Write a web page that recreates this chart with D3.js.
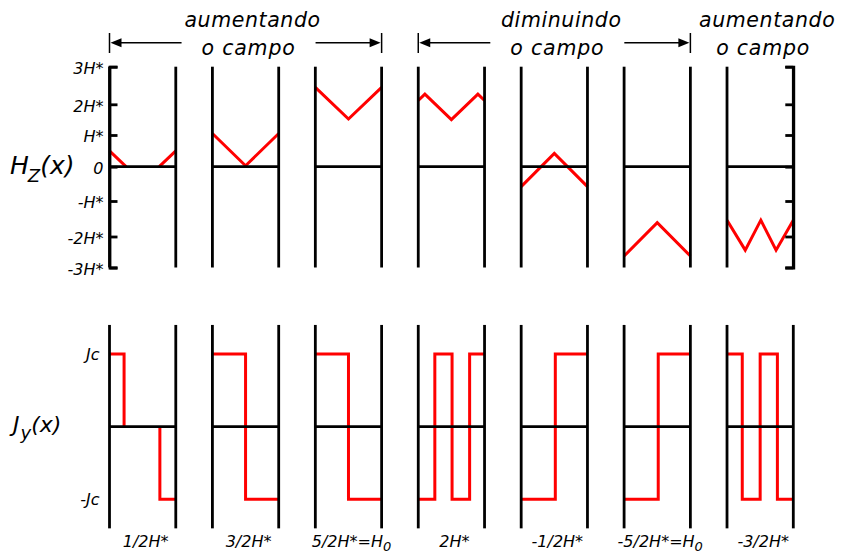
<!DOCTYPE html>
<html>
<head>
<meta charset="utf-8">
<script src="https://cdn.jsdelivr.net/npm/d3@7"></script>
<style>
  body { margin: 0; background: #fff; }
  text { font-family: "DejaVu Sans", sans-serif; font-style: italic; fill: #000; }
</style>
</head>
<body>
<div id="container"></div>
<script>
/** DATA */
// applied field for each snapshot (subscript part kept apart)
const fieldLabels = ["1/2H*", "3/2H*", "5/2H*=H", "2H*", "-1/2H*", "-5/2H*=H", "-3/2H*"];
const fieldSubs = ["", "", "0", "", "", "0", ""];

// Hz(x) across the slab: [position 0..1 from left face, field in H*]
const hzProfiles = [
  [[0, 0.5], [0.25, 0], [0.75, 0], [1, 0.5]],
  [[0, 1.05], [0.5, 0.03], [1, 1.05]],
  [[0, 2.45], [0.5, 1.52], [1, 2.45]],
  [[0, 2.1], [0.1, 2.27], [0.5, 1.5], [0.9, 2.27], [1, 2.1]],
  [[0, -0.58], [0.5, 0.42], [1, -0.58]],
  [[0, -2.63], [0.5, -1.61], [1, -2.63]],
  [[0, -1.54], [0.275, -2.44], [0.51, -1.54], [0.74, -2.44], [1, -1.54]]
];

// Jy(x) steps: [position where the step starts, current in Jc]
const jyProfiles = [
  [[0, 1], [0.22, 0], [0.76, -1], [1, -1]],
  [[0, 1], [0.5, -1], [1, -1]],
  [[0, 1], [0.5, -1], [1, -1]],
  [[0, -1], [0.25, 1], [0.51, -1], [0.775, 1], [1, 1]],
  [[0, -1], [0.515, 1], [1, 1]],
  [[0, -1], [0.515, 1], [1, 1]],
  [[0, 1], [0.23, -1], [0.5, 1], [0.76, -1], [1, -1]]
];

const hzTicks = [-3, -2, -1, 0, 1, 2, 3];
const hzTickLabels = ["-3H*", "-2H*", "-H*", "0", "H*", "2H*", "3H*"];
const jyTicks = [-1, 1];
const jyTickLabels = ["-Jc", "Jc"];

// header: text lines and the first/last panel each one covers
const headerTexts = [["aumentando", "o campo"], ["diminuindo", "o campo"], ["aumentando", "o campo"]];
const headerPanels = [[0, 2], [3, 5], [6, 6]];

/** SCALES */
const width = 841, height = 556;

const x = d3.scaleBand()
  .domain(d3.range(fieldLabels.length))
  .range([109.5, 793.3])
  .paddingInner(0.356);
const bw = x.bandwidth();
const u = d3.scaleLinear().domain([0, 1]).range([0, bw]);

// the hand-drawn tick spacing is a little uneven
const yH = d3.scaleLinear()
  .domain(hzTicks)
  .range([267.5, 236.5, 201, 166.7, 135, 104.3, 66.7]);
const yJ = d3.scaleLinear().domain([-1, 1]).range([499.3, 354]);

const svg = d3.select("#container")
  .append("svg")
  .attr("width", width)
  .attr("height", height);

// red profile; pieces lying on the zero line are left out (black line shows there)
function profilePath(pts, y) {
  const p = d3.path();
  pts.forEach((d, i) => {
    const px = u(d[0]), py = y(d[1]);
    if (i === 0 || (d[1] === 0 && pts[i - 1][1] === 0)) p.moveTo(px, py);
    else p.lineTo(px, py);
  });
  return p.toString();
}

// step-after profile -> explicit corner points
function stepPoints(pts) {
  const out = [pts[0]];
  for (let i = 1; i < pts.length; i++) {
    out.push([pts[i][0], pts[i - 1][1]]);
    if (pts[i][1] !== pts[i - 1][1]) out.push(pts[i]);
  }
  return out;
}

/** HEADER */
headerPanels.forEach(([a, b], gi) => {
  const x0 = x(a), x1 = x(b) + bw;
  const cx = (x0 + x1) / 2 + 3;
  const g = svg.append("g");
  g.append("text")
    .attr("x", cx + 4).attr("y", 26.5)
    .attr("text-anchor", "middle")
    .attr("font-size", 20.5)
    .attr("letter-spacing", 0.6)
    .text(headerTexts[gi][0]);
  g.append("text")
    .attr("x", cx).attr("y", 55)
    .attr("text-anchor", "middle")
    .attr("font-size", 20.5)
    .attr("letter-spacing", 0.8)
    .text(headerTexts[gi][1]);

  if (a === b) return;
  const ay = 42.7;
  // left bar + arrow
  g.append("line").attr("x1", x0).attr("x2", x0).attr("y1", 33).attr("y2", 53)
    .attr("stroke", "#000").attr("stroke-width", 1.5);
  g.append("line").attr("x1", x0 + 8).attr("x2", cx - 67).attr("y1", ay).attr("y2", ay)
    .attr("stroke", "#000").attr("stroke-width", 1.5);
  g.append("path")
    .attr("d", `M${x0 + 1},${ay}L${x0 + 12},${ay - 4.5}L${x0 + 12},${ay + 4.5}Z`)
    .attr("fill", "#000");
  // right arrow + bar
  g.append("line").attr("x1", x1).attr("x2", x1).attr("y1", 33).attr("y2", 53)
    .attr("stroke", "#000").attr("stroke-width", 1.5);
  g.append("line").attr("x1", cx + 67).attr("x2", x1 - 8).attr("y1", ay).attr("y2", ay)
    .attr("stroke", "#000").attr("stroke-width", 1.5);
  g.append("path")
    .attr("d", `M${x1 - 1},${ay}L${x1 - 12},${ay - 4.5}L${x1 - 12},${ay + 4.5}Z`)
    .attr("fill", "#000");
});

/** TOP ROW: Hz(x) */
const panelsH = svg.selectAll(".hz")
  .data(hzProfiles)
  .join("g")
  .attr("class", "hz")
  .attr("transform", (d, i) => `translate(${x(i)},0)`);

panelsH.append("path")
  .attr("d", d => profilePath(d, yH))
  .attr("fill", "none")
  .attr("stroke", "#ff0000")
  .attr("stroke-width", 3);

panelsH.append("line")
  .attr("x1", 0).attr("x2", bw)
  .attr("y1", yH(0)).attr("y2", yH(0))
  .attr("stroke", "#000").attr("stroke-width", 2.8);

panelsH.selectAll(".edge")
  .data([0, 1])
  .join("line")
  .attr("class", "edge")
  .attr("x1", d => u(d)).attr("x2", d => u(d))
  .attr("y1", yH(3)).attr("y2", yH(-3))
  .attr("stroke", "#000").attr("stroke-width", 2.8);

// axes with inward ticks
const leftAxis = svg.append("g")
  .attr("transform", `translate(${x(0)},0)`)
  .call(d3.axisLeft(yH)
    .tickValues(hzTicks)
    .tickFormat((d, i) => hzTickLabels[i])
    .tickSizeInner(-8)
    .tickSizeOuter(-8)
    .tickPadding(6));
leftAxis.attr("font-family", null).attr("font-size", 16);
leftAxis.selectAll("path, line").attr("stroke-width", 2.8);
leftAxis.selectAll("text").attr("dy", "0.42em");

const rightAxis = svg.append("g")
  .attr("transform", `translate(${x(6) + bw},0)`)
  .call(d3.axisRight(yH)
    .tickValues(hzTicks)
    .tickFormat("")
    .tickSizeInner(-8)
    .tickSizeOuter(-8));
rightAxis.selectAll("path, line").attr("stroke-width", 2.8);

// Hz(x) label
const hzLab = svg.append("text").attr("x", 10).attr("y", 174).attr("font-size", 25);
hzLab.append("tspan").text("H");
hzLab.append("tspan").attr("dx", -1).attr("dy", 8).attr("font-size", 18).text("Z");
hzLab.append("tspan").attr("dx", 0).attr("dy", -8).text("(x)");

/** BOTTOM ROW: Jy(x) */
const panelsJ = svg.selectAll(".jy")
  .data(jyProfiles)
  .join("g")
  .attr("class", "jy")
  .attr("transform", (d, i) => `translate(${x(i)},0)`);

panelsJ.append("path")
  .attr("d", d => profilePath(stepPoints(d), yJ))
  .attr("fill", "none")
  .attr("stroke", "#ff0000")
  .attr("stroke-width", 3);

panelsJ.append("line")
  .attr("x1", 0).attr("x2", bw)
  .attr("y1", yJ(0)).attr("y2", yJ(0))
  .attr("stroke", "#000").attr("stroke-width", 2.8);

panelsJ.selectAll(".edge")
  .data([0, 1])
  .join("line")
  .attr("class", "edge")
  .attr("x1", d => u(d)).attr("x2", d => u(d))
  .attr("y1", yJ(1.4)).attr("y2", yJ(-1.4))
  .attr("stroke", "#000").attr("stroke-width", 2.8);

svg.selectAll(".jtick")
  .data(jyTicks)
  .join("text")
  .attr("class", "jtick")
  .attr("x", x(0) - 10)
  .attr("y", d => yJ(d))
  .attr("dy", "0.35em")
  .attr("text-anchor", "end")
  .attr("font-size", 16)
  .text((d, i) => jyTickLabels[i]);

const jyLab = svg.append("text").attr("x", 13).attr("y", 432).attr("font-size", 22);
jyLab.append("tspan").text("J");
jyLab.append("tspan").attr("dx", 1).attr("dy", 7).attr("font-size", 18).text("y");
jyLab.append("tspan").attr("dx", 0).attr("dy", -7).text("(x)");

// field value under each panel
const fl = svg.selectAll(".field")
  .data(fieldLabels)
  .join("text")
  .attr("class", "field")
  .attr("x", (d, i) => x(i) + bw / 2 + 3)
  .attr("y", 547)
  .attr("text-anchor", "middle")
  .attr("font-size", 16);
fl.append("tspan").text(d => d);
fl.append("tspan")
  .attr("dy", 4)
  .attr("font-size", 13)
  .text((d, i) => fieldSubs[i]);
</script>
</body>
</html>
